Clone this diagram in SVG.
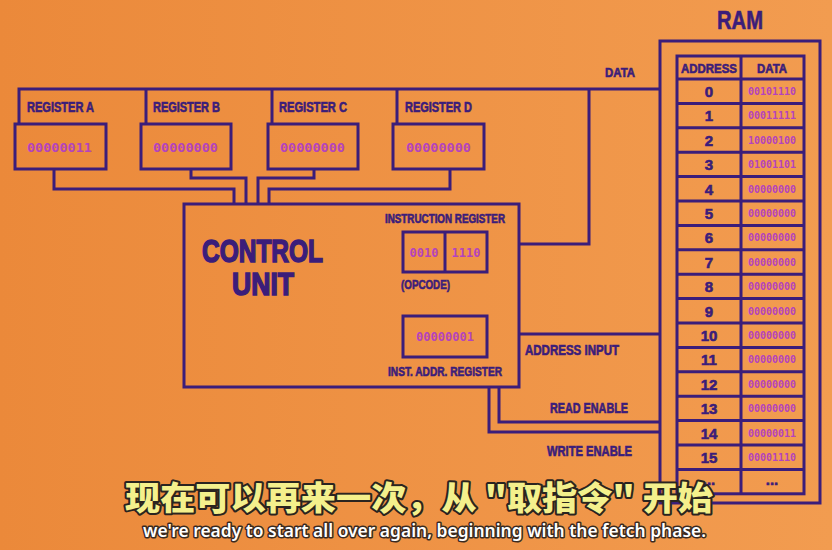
<svg xmlns="http://www.w3.org/2000/svg" width="832" height="550" viewBox="0 0 832 550">
<defs>
<linearGradient id="bg" x1="0" y1="0" x2="1" y2="0">
<stop offset="0" stop-color="#EB893A"/>
<stop offset="1" stop-color="#F29C50"/>
</linearGradient>
<style>
.ln{fill:none;stroke:#3B1D7A;stroke-width:3;stroke-linejoin:miter}
.bx{fill:none;stroke:#3B1D7A;stroke-width:3}
.lb{font-family:"Liberation Sans",Arial,sans-serif;font-weight:bold;fill:#3B1D7A;stroke:#3B1D7A;stroke-width:0.6}
.val{font-family:"DejaVu Sans Mono","Liberation Mono",monospace;font-weight:bold;fill:#B443BE}
.big{font-family:"Liberation Sans",Arial,sans-serif;font-weight:bold;fill:#3B1D7A;font-size:32px;stroke:#3B1D7A;stroke-width:1.6}
.num{font-family:"Liberation Sans",Arial,sans-serif;font-weight:bold;fill:#3B1D7A;font-size:15px;text-anchor:middle;stroke:#3B1D7A;stroke-width:0.6}
.rv{font-family:"DejaVu Sans Mono","Liberation Mono",monospace;font-weight:bold;fill:#B443BE;font-size:10px;text-anchor:middle}
.zh{font-family:"Noto Sans CJK SC","Noto Sans",sans-serif;font-weight:900;font-size:33px;fill:#F4F08C;stroke:#2A2420;stroke-width:4;paint-order:stroke;stroke-linejoin:round}
.en{font-family:"Noto Sans","Open Sans",sans-serif;font-weight:600;font-size:17px;fill:#FFFFFF;stroke:#3A2A20;stroke-width:3;paint-order:stroke;stroke-linejoin:round}
</style>
</defs>
<rect width="832" height="550" fill="url(#bg)"/>

<g id="connectors">
<path class="ln" d="M19 124 V89 H660"/>
<path class="ln" d="M146 124 V89"/>
<path class="ln" d="M272 124 V89"/>
<path class="ln" d="M397 124 V89"/>
<path class="ln" d="M54 169 V189 H234 V204"/>
<path class="ln" d="M191 169 V178 H246 V204"/>
<path class="ln" d="M314 169 V178 H258 V204"/>
<path class="ln" d="M450 169 V189 H269 V204"/>
<path class="ln" d="M519 244 H589 V89"/>
<path class="ln" d="M519 334 H660"/>
<path class="ln" d="M499 387 V422 H660"/>
<path class="ln" d="M489 387 V432 H660"/>
<text class="lb" x="605" y="77" font-size="13" textLength="30" lengthAdjust="spacingAndGlyphs">DATA</text>
<text class="lb" x="525" y="355" font-size="14" textLength="94" lengthAdjust="spacingAndGlyphs">ADDRESS INPUT</text>
<text class="lb" x="550" y="413" font-size="14" textLength="78" lengthAdjust="spacingAndGlyphs">READ ENABLE</text>
<text class="lb" x="547" y="456" font-size="14" textLength="85" lengthAdjust="spacingAndGlyphs">WRITE ENABLE</text>
</g>

<g id="register-a">
<text class="lb" x="27" y="112" font-size="14" textLength="67" lengthAdjust="spacingAndGlyphs">REGISTER A</text>
<rect class="bx" x="15" y="124" width="91" height="45"/>
<text class="val" x="27" y="152" font-size="13" textLength="65" lengthAdjust="spacingAndGlyphs">00000011</text>
</g>
<g id="register-b">
<text class="lb" x="153" y="112" font-size="14" textLength="67" lengthAdjust="spacingAndGlyphs">REGISTER B</text>
<rect class="bx" x="141" y="124" width="90" height="45"/>
<text class="val" x="153" y="152" font-size="13" textLength="65" lengthAdjust="spacingAndGlyphs">00000000</text>
</g>
<g id="register-c">
<text class="lb" x="279" y="112" font-size="14" textLength="68" lengthAdjust="spacingAndGlyphs">REGISTER C</text>
<rect class="bx" x="268" y="124" width="90" height="45"/>
<text class="val" x="280" y="152" font-size="13" textLength="65" lengthAdjust="spacingAndGlyphs">00000000</text>
</g>
<g id="register-d">
<text class="lb" x="405" y="112" font-size="14" textLength="67" lengthAdjust="spacingAndGlyphs">REGISTER D</text>
<rect class="bx" x="393" y="124" width="91" height="45"/>
<text class="val" x="406" y="152" font-size="13" textLength="65" lengthAdjust="spacingAndGlyphs">00000000</text>
</g>

<g id="control-unit">
<rect class="bx" x="184" y="204" width="335" height="183"/>
<text class="big" x="202" y="262" textLength="121" lengthAdjust="spacingAndGlyphs">CONTROL</text>
<text class="big" x="232" y="295" textLength="62" lengthAdjust="spacingAndGlyphs">UNIT</text>
<text class="lb" x="385" y="223" font-size="12" textLength="120" lengthAdjust="spacingAndGlyphs">INSTRUCTION REGISTER</text>
<rect class="bx" x="403" y="232" width="84" height="40"/>
<line class="ln" x1="445" y1="232" x2="445" y2="272"/>
<text class="val" x="424" y="257" font-size="12" text-anchor="middle">0010</text>
<text class="val" x="466" y="257" font-size="12" text-anchor="middle">1110</text>
<text class="lb" x="401" y="289" font-size="13" textLength="49" lengthAdjust="spacingAndGlyphs">(OPCODE)</text>
<rect class="bx" x="403" y="316" width="84" height="41"/>
<text class="val" x="445" y="341" font-size="12" text-anchor="middle">00000001</text>
<text class="lb" x="388" y="376" font-size="13" textLength="114" lengthAdjust="spacingAndGlyphs">INST. ADDR. REGISTER</text>
</g>

<g id="ram">
<text class="lb" x="740" y="29" font-size="25" text-anchor="middle" textLength="46" lengthAdjust="spacingAndGlyphs">RAM</text>
<rect class="bx" x="660" y="41" width="160" height="462"/>
<rect class="bx" x="677" y="56" width="127" height="437.8"/>
<line class="ln" x1="741" y1="56" x2="741" y2="493.8"/>
<path class="ln" d="M677 79 H804 M677 103.4 H804 M677 127.8 H804 M677 152.2 H804 M677 176.6 H804 M677 201 H804 M677 225.4 H804 M677 249.8 H804 M677 274.2 H804 M677 298.6 H804 M677 323 H804 M677 347.4 H804 M677 371.8 H804 M677 396.2 H804 M677 420.6 H804 M677 445 H804 M677 469.4 H804"/>
<text class="lb" x="709" y="73" font-size="13" text-anchor="middle" textLength="56" lengthAdjust="spacingAndGlyphs">ADDRESS</text>
<text class="lb" x="772" y="73" font-size="13" text-anchor="middle" textLength="30" lengthAdjust="spacingAndGlyphs">DATA</text>
<text class="num" x="709" y="97">0</text><text class="rv" x="772" y="95">00101110</text>
<text class="num" x="709" y="121.4">1</text><text class="rv" x="772" y="119.4">00011111</text>
<text class="num" x="709" y="145.8">2</text><text class="rv" x="772" y="143.8">10000100</text>
<text class="num" x="709" y="170.2">3</text><text class="rv" x="772" y="168.2">01001101</text>
<text class="num" x="709" y="194.6">4</text><text class="rv" x="772" y="192.6">00000000</text>
<text class="num" x="709" y="219">5</text><text class="rv" x="772" y="217">00000000</text>
<text class="num" x="709" y="243.4">6</text><text class="rv" x="772" y="241.4">00000000</text>
<text class="num" x="709" y="267.8">7</text><text class="rv" x="772" y="265.8">00000000</text>
<text class="num" x="709" y="292.2">8</text><text class="rv" x="772" y="290.2">00000000</text>
<text class="num" x="709" y="316.6">9</text><text class="rv" x="772" y="314.6">00000000</text>
<text class="num" x="709" y="341">10</text><text class="rv" x="772" y="339">00000000</text>
<text class="num" x="709" y="365.4">11</text><text class="rv" x="772" y="363.4">00000000</text>
<text class="num" x="709" y="389.8">12</text><text class="rv" x="772" y="387.8">00000000</text>
<text class="num" x="709" y="414.2">13</text><text class="rv" x="772" y="412.2">00000000</text>
<text class="num" x="709" y="438.6">14</text><text class="rv" x="772" y="436.6">00000011</text>
<text class="num" x="709" y="463">15</text><text class="rv" x="772" y="461">00001110</text>
<text class="num" x="709" y="485">...</text><text class="num" x="772" y="485" font-size="13">...</text>
</g>

<g id="subtitles">
<text class="zh" x="125" y="510" textLength="588" lengthAdjust="spacingAndGlyphs">现在可以再来一次，从 "取指令" 开始</text>
<text class="en" x="143" y="537" textLength="563" lengthAdjust="spacingAndGlyphs">we're ready to start all over again, beginning with the fetch phase.</text>
</g>
</svg>
